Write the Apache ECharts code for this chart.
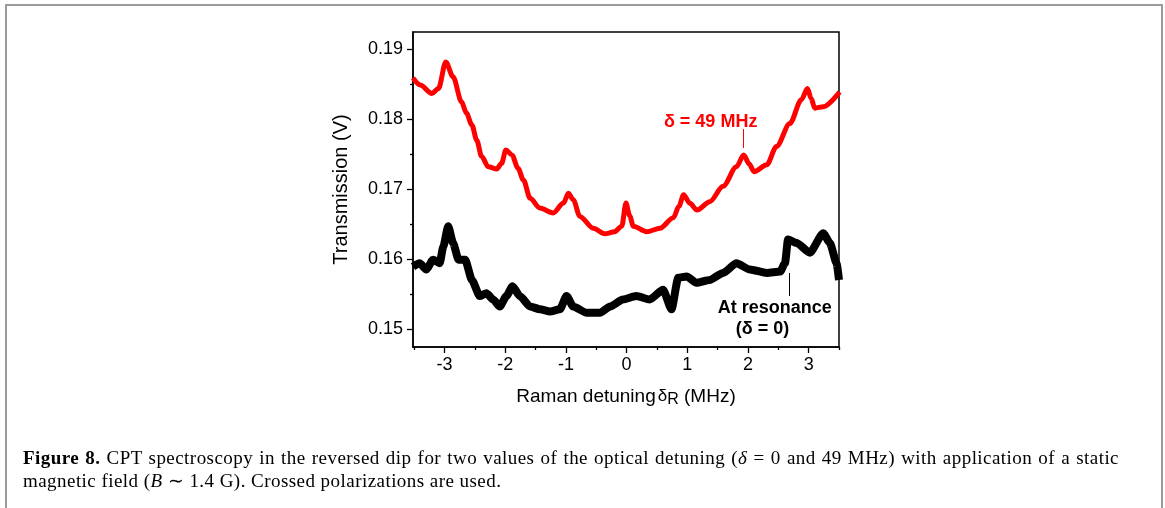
<!DOCTYPE html>
<html>
<head>
<meta charset="utf-8">
<script src="https://cdn.jsdelivr.net/npm/echarts@6/dist/echarts.min.js"></script>
<style>
html,body{margin:0;padding:0;background:#fff;}
#wrap{position:relative;width:1165px;height:508px;overflow:hidden;}
#chart{position:absolute;left:0;top:0;width:1165px;height:508px;}
#caption{position:absolute;left:23px;top:446px;width:1096px;font-family:"Liberation Serif","Times New Roman",serif;font-size:19px;letter-spacing:0.45px;line-height:23px;color:#000;}
#caption .l1{text-align:justify;text-align-last:justify;}
</style>
</head>
<body>
<div id="wrap">
<div id="chart"></div>
<div id="caption">
<div class="l1"><b>Figure 8.</b> CPT spectroscopy in the reversed dip for two values of the optical detuning (<i>δ</i> = 0 and 49 MHz) with application of a static</div>
<div class="l2">magnetic field (<i>B</i> ∼ 1.4 G). Crossed polarizations are used.</div>
</div>
</div>
<script>
// ---- data ----
const redX = [-3.52,-3.40,-3.21,-3.10,-2.98,-2.86,-2.72,-2.64,-2.55,-2.47,-2.39,-2.28,-2.14,-2.06,-1.99,-1.89,-1.79,-1.70,-1.59,-1.43,-1.21,-1.04,-0.96,-0.88,-0.77,-0.55,-0.36,-0.20,-0.08,-0.01,0.05,0.11,0.33,0.55,0.77,0.86,0.94,1.04,1.16,1.37,1.59,1.81,1.93,2.02,2.10,2.31,2.47,2.69,2.88,2.98,3.04,3.10,3.24,3.51];
const redY = [0.1859,0.1849,0.1837,0.1844,0.1882,0.1861,0.1825,0.1809,0.1792,0.1770,0.1747,0.1732,0.1729,0.1737,0.1756,0.1749,0.1730,0.1713,0.1687,0.1673,0.1666,0.1680,0.1694,0.1685,0.1661,0.1644,0.1636,0.1639,0.1647,0.1680,0.1662,0.1647,0.1639,0.1644,0.1659,0.1675,0.1692,0.1680,0.1670,0.1682,0.1704,0.1732,0.1749,0.1736,0.1725,0.1735,0.1761,0.1794,0.1828,0.1844,0.1830,0.1816,0.1818,0.1839];

const blackX = [-3.52,-3.41,-3.30,-3.19,-3.08,-3.02,-2.94,-2.86,-2.77,-2.66,-2.55,-2.42,-2.31,-2.20,-2.09,-1.98,-1.88,-1.76,-1.59,-1.43,-1.26,-1.10,-0.99,-0.88,-0.66,-0.44,-0.27,-0.06,0.16,0.38,0.60,0.74,0.85,0.99,1.15,1.37,1.59,1.81,2.03,2.31,2.53,2.61,2.66,2.80,3.02,3.24,3.35,3.46,3.50];
const blackY = [0.1589,0.1594,0.1585,0.1599,0.1594,0.1618,0.1647,0.1623,0.1599,0.1599,0.1570,0.1547,0.1551,0.1542,0.1532,0.1547,0.1561,0.1547,0.1532,0.1528,0.1525,0.1528,0.1547,0.1532,0.1523,0.1523,0.1532,0.1542,0.1547,0.1542,0.1556,0.1528,0.1573,0.1575,0.1566,0.1570,0.1580,0.1594,0.1585,0.1580,0.1582,0.1594,0.1628,0.1623,0.1609,0.1637,0.1623,0.1594,0.1570];

const xMajorTicks = [-3,-2,-1,0,1,2,3];
const xMinorTicks = [-3.5,-2.5,-1.5,-0.5,0.5,1.5,2.5,3.5];
const yMajorTicks = [0.15,0.16,0.17,0.18,0.19];
const yMinorTicks = [0.155,0.165,0.175,0.185];

// annotation anchors (data coordinates)
const redMarker = [[1.92,0.1759],[1.92,0.1786]];
const redLabel = {text:'δ = 49 MHz', at:[1.385,0.17966]};
const blackMarker = [[2.68,0.1547],[2.68,0.1580]];
const blackLabel1 = {text:'At resonance', at:[2.44,0.1530]};
const blackLabel2 = {text:'(δ = 0)', at:[2.24,0.1500]};

const pairs = (xs, ys) => xs.map((x,i)=>[x, ys[i]]);

const chart = echarts.init(document.getElementById('chart'), null, {renderer:'canvas'});
const axisColor = '#000';
const FONT = 'Liberation Sans, Arial, sans-serif';

const option = {
  animation:false,
  backgroundColor:'transparent',
  grid:{left:413,right:326,top:32,bottom:161,show:true,borderColor:'#000',borderWidth:1.5,backgroundColor:'transparent'},
  xAxis:[{
    type:'value', min:-3.52, max:3.5, position:'bottom',
    axisLine:{onZero:false,lineStyle:{color:axisColor,width:1.5}},
    axisTick:{customValues:xMajorTicks,length:6,lineStyle:{color:axisColor,width:1.3}},
    axisLabel:{customValues:xMajorTicks,color:'#000',fontSize:18,fontFamily:FONT,margin:9,formatter:v=>String(Math.round(v))},
    splitLine:{show:false},
    name:'{n|Raman detuning}{d|δ}{s|R}{n| (MHz)}',
    nameLocation:'middle', nameGap:38,
    nameTextStyle:{color:'#000',fontFamily:FONT,fontSize:19,rich:{
      n:{fontSize:19,fontFamily:FONT,color:'#000'},
      d:{fontSize:17,fontFamily:FONT,color:'#000',padding:[0,0,0,2]},
      s:{fontSize:16,fontFamily:FONT,color:'#000',padding:[7,0,0,0]}
    }}
  },{
    type:'value', min:-3.52, max:3.5, position:'bottom',
    axisLine:{show:false,onZero:false},
    axisTick:{customValues:xMinorTicks,length:3,lineStyle:{color:axisColor,width:1.3}},
    axisLabel:{show:false}, splitLine:{show:false}
  }],
  yAxis:[{
    type:'value', min:0.1474, max:0.1925, position:'left',
    axisLine:{show:true,onZero:false,lineStyle:{color:axisColor,width:1.5}},
    axisTick:{show:true,customValues:yMajorTicks,length:6,lineStyle:{color:axisColor,width:1.3}},
    axisLabel:{customValues:yMajorTicks,color:'#000',fontSize:18,fontFamily:FONT,margin:10,formatter:v=>v.toFixed(2)},
    splitLine:{show:false},
    name:'Transmission (V)', nameLocation:'middle', nameGap:62,
    nameTextStyle:{color:'#000',fontFamily:FONT,fontSize:20}
  },{
    type:'value', min:0.1474, max:0.1925, position:'left',
    axisLine:{show:false,onZero:false},
    axisTick:{show:true,customValues:yMinorTicks,length:3,lineStyle:{color:axisColor,width:1.3}},
    axisLabel:{show:false}, splitLine:{show:false}
  }],
  series:[{
    type:'line', name:'δ = 49 MHz', xAxisIndex:0, yAxisIndex:0,
    data:pairs(redX,redY), showSymbol:false, smooth:0.3, smoothMonotone:'x',
    lineStyle:{color:'#ff0000',width:5}, itemStyle:{color:'#ff0000'},
    markLine:{silent:true,symbol:'none',label:{show:false},lineStyle:{color:'#ff0000',width:1,type:'solid'},
      data:[[{coord:redMarker[0]},{coord:redMarker[1]}]]}
  },{
    type:'line', name:'At resonance', xAxisIndex:0, yAxisIndex:0,
    data:pairs(blackX,blackY), showSymbol:false, smooth:0.2, smoothMonotone:'x',
    lineStyle:{color:'#000000',width:8}, itemStyle:{color:'#000'},
    markLine:{silent:true,symbol:'none',label:{show:false},lineStyle:{color:'#000',width:1,type:'solid'},
      data:[[{coord:blackMarker[0]},{coord:blackMarker[1]}]]}
  }]
};
chart.setOption(option);

const px = p => chart.convertToPixel({xAxisIndex:0,yAxisIndex:0}, p);
const a1 = px(redLabel.at), a2 = px(blackLabel1.at), a3 = px(blackLabel2.at);
const BORDER = '#9a9a9a';
chart.setOption({graphic:[
  {type:'line',shape:{x1:5,y1:5,x2:1163,y2:5},style:{stroke:BORDER,lineWidth:2},silent:true},
  {type:'line',shape:{x1:6,y1:5,x2:6,y2:508},style:{stroke:BORDER,lineWidth:2},silent:true},
  {type:'line',shape:{x1:1162,y1:5,x2:1162,y2:508},style:{stroke:BORDER,lineWidth:2},silent:true},
  {type:'text',x:a1[0],y:a1[1],style:{text:redLabel.text,fill:'#ff0000',font:'bold 18px '+FONT,textAlign:'center',textVerticalAlign:'middle'}},
  {type:'text',x:a2[0],y:a2[1],style:{text:blackLabel1.text,fill:'#000',font:'bold 18px '+FONT,textAlign:'center',textVerticalAlign:'middle'}},
  {type:'text',x:a3[0],y:a3[1],style:{text:blackLabel2.text,fill:'#000',font:'bold 18px '+FONT,textAlign:'center',textVerticalAlign:'middle'}}
]});
</script>
</body>
</html>
